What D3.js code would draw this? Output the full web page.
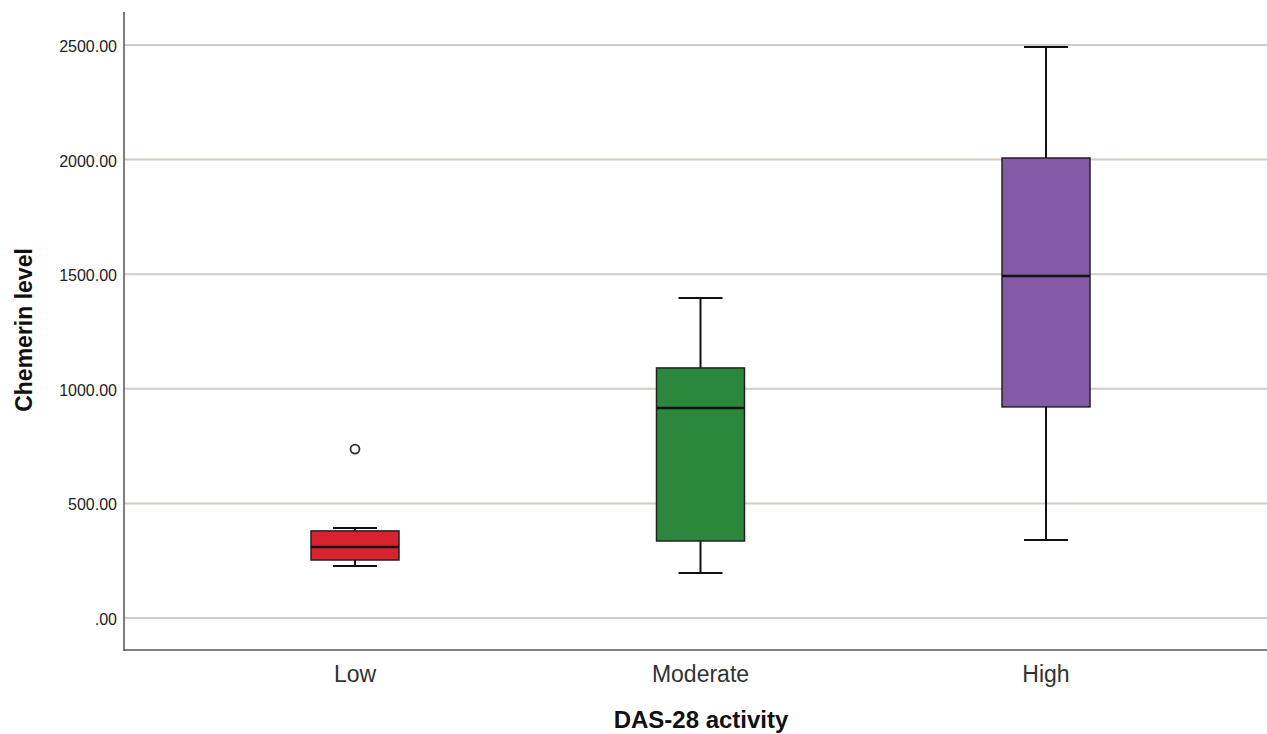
<!DOCTYPE html>
<html>
<head>
<meta charset="utf-8">
<script src="https://cdn.jsdelivr.net/npm/d3@7"></script>
<style>
  body { margin: 0; background: #fff; }
  svg { display: block; font-family: "Liberation Sans", Arial, sans-serif; }
</style>
</head>
<body>
<svg id="chart" width="1267" height="734"></svg>
<script>
// box plot summary
const categories = ['Low', 'Moderate', 'High'];
const whiskerLow = [227, 196, 340];
const q1 = [253, 336, 921];
const median = [310, 916, 1492];
const q3 = [380, 1091, 2007];
const whiskerHigh = [393, 1396, 2491];
const outliers = [[737], [], []];
const colors = ['#d9222f', '#2a873b', '#8459a6'];
const yTicks = [0, 500, 1000, 1500, 2000, 2500];

const svg = d3.select('#chart');
const W = 1267, H = 734;
const axisLeft = 124, axisBottom = 650, axisTop = 12;

const y = d3.scaleLinear().domain([0, 2500]).range([618, 45]);
const x = d3.scalePoint().domain(categories).range([355, 1046]);
const boxW = 88;

const data = categories.map((c, i) => ({
    cat: c, lo: whiskerLow[i], q1: q1[i], med: median[i], q3: q3[i], hi: whiskerHigh[i],
    out: outliers[i], color: colors[i]
}));

// gridlines
svg.append('g').selectAll('line')
    .data(yTicks)
    .enter().append('line')
    .attr('x1', axisLeft).attr('x2', W)
    .attr('y1', d => y(d)).attr('y2', d => y(d))
    .attr('stroke', '#d5cac5').attr('stroke-width', 2);

// tick labels
svg.append('g').selectAll('text')
    .data(yTicks)
    .enter().append('text')
    .attr('x', axisLeft - 7)
    .attr('y', d => y(d) + 7)
    .attr('text-anchor', 'end')
    .attr('font-size', 16)
    .attr('fill', '#222')
    .text(d => d === 0 ? '.00' : d.toFixed(2));

// axes lines
svg.append('line').attr('x1', axisLeft).attr('x2', axisLeft).attr('y1', axisTop).attr('y2', axisBottom + 1)
    .attr('stroke', '#555').attr('stroke-width', 1.5);
svg.append('line').attr('x1', axisLeft).attr('x2', W).attr('y1', axisBottom).attr('y2', axisBottom)
    .attr('stroke', '#555').attr('stroke-width', 1.5);

const g = svg.append('g').selectAll('g')
    .data(data)
    .enter().append('g');

// whiskers
g.append('line')
    .attr('x1', d => x(d.cat)).attr('x2', d => x(d.cat))
    .attr('y1', d => y(d.hi)).attr('y2', d => y(d.q3))
    .attr('stroke', '#111').attr('stroke-width', 2);
g.append('line')
    .attr('x1', d => x(d.cat)).attr('x2', d => x(d.cat))
    .attr('y1', d => y(d.q1)).attr('y2', d => y(d.lo))
    .attr('stroke', '#111').attr('stroke-width', 2);
g.append('line')
    .attr('x1', d => x(d.cat) - boxW / 4).attr('x2', d => x(d.cat) + boxW / 4)
    .attr('y1', d => y(d.hi)).attr('y2', d => y(d.hi))
    .attr('stroke', '#111').attr('stroke-width', 2);
g.append('line')
    .attr('x1', d => x(d.cat) - boxW / 4).attr('x2', d => x(d.cat) + boxW / 4)
    .attr('y1', d => y(d.lo)).attr('y2', d => y(d.lo))
    .attr('stroke', '#111').attr('stroke-width', 2);

// boxes
g.append('rect')
    .attr('x', d => x(d.cat) - boxW / 2)
    .attr('width', boxW)
    .attr('y', d => y(d.q3))
    .attr('height', d => y(d.q1) - y(d.q3))
    .attr('fill', d => d.color)
    .attr('stroke', '#222').attr('stroke-width', 1.5);

// medians
g.append('line')
    .attr('x1', d => x(d.cat) - boxW / 2).attr('x2', d => x(d.cat) + boxW / 2)
    .attr('y1', d => y(d.med)).attr('y2', d => y(d.med))
    .attr('stroke', '#111').attr('stroke-width', 2.5);

// outliers
g.selectAll('circle')
    .data(d => d.out.map(v => ({ cat: d.cat, v: v })))
    .enter().append('circle')
    .attr('cx', d => x(d.cat))
    .attr('cy', d => y(d.v))
    .attr('r', 4.5)
    .attr('fill', '#fff')
    .attr('stroke', '#333').attr('stroke-width', 1.8);

// category labels
svg.append('g').selectAll('text')
    .data(categories)
    .enter().append('text')
    .attr('x', d => x(d))
    .attr('y', 682)
    .attr('text-anchor', 'middle')
    .attr('font-size', 23)
    .attr('fill', '#333')
    .text(d => d);

// axis titles
svg.append('text')
    .attr('x', 701).attr('y', 728)
    .attr('text-anchor', 'middle')
    .attr('font-size', 24).attr('font-weight', 'bold')
    .attr('fill', '#111')
    .text('DAS-28 activity');

svg.append('text')
    .attr('transform', 'translate(32,330) rotate(-90)')
    .attr('text-anchor', 'middle')
    .attr('font-size', 23).attr('font-weight', 'bold')
    .attr('fill', '#111')
    .text('Chemerin level');
</script>
</body>
</html>
